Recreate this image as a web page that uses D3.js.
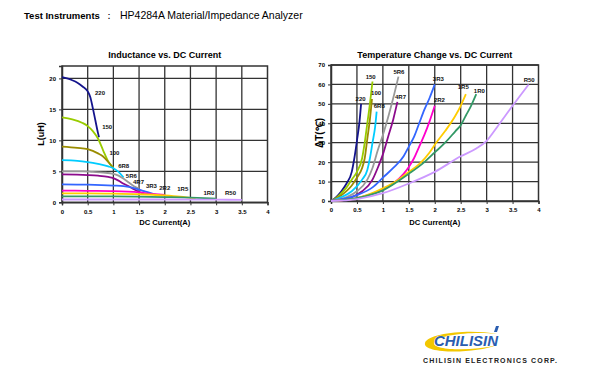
<!DOCTYPE html>
<html>
<head>
<meta charset="utf-8">
<script src="https://cdn.jsdelivr.net/npm/d3@7"></script>
<style>
  body { margin: 0; background: #fff; }
  svg { font-family: "Liberation Sans", Arial, sans-serif; }
</style>
</head>
<body>
<div id="chart"></div>
<script>
// series part numbers, same order in both charts
const seriesNames = ["220", "150", "100", "6R8", "5R6", "4R7", "3R3", "2R2", "1R5", "1R0", "R50"];
const seriesColors = ["#14148c", "#99cc00", "#9a8c00", "#00ccff", "#999999", "#8c0a8c", "#3366ff", "#ff00cc", "#ffcc00", "#339966", "#cc99ff"];

const xTicks = [0, 0.5, 1, 1.5, 2, 2.5, 3, 3.5, 4];
const inductanceTicks = [0, 5, 10, 15, 20];
const tempTicks = [0, 10, 20, 30, 40, 50, 60, 70];

// L(uH) vs DC current(A)
const inductanceCurves = [
  [[0, 20.2], [0.1, 20.0], [0.2, 19.7], [0.3, 19.3], [0.4, 18.7], [0.5, 17.9], [0.55, 17.0], [0.6, 15.2], [0.65, 13.2], [0.7, 11.2], [0.72, 10.5]],
  [[0, 13.7], [0.2, 13.4], [0.4, 12.8], [0.5, 12.3], [0.6, 11.5], [0.7, 10.3], [0.8, 8.4], [0.9, 6.6], [1.0, 5.6]],
  [[0, 9.0], [0.3, 8.8], [0.5, 8.6], [0.6, 8.3], [0.7, 7.9], [0.8, 7.4], [0.9, 6.5], [1.0, 5.5]],
  [[0, 6.8], [0.3, 6.7], [0.5, 6.5], [0.7, 6.2], [0.9, 5.8], [1.0, 5.5], [1.1, 4.9], [1.2, 4.0]],
  [[0, 5.0], [0.4, 5.0], [0.6, 4.9], [0.8, 4.8], [1.0, 4.6], [1.1, 4.3], [1.2, 3.8], [1.3, 3.2], [1.4, 2.6], [1.5, 2.2]],
  [[0, 4.5], [0.5, 4.4], [0.7, 4.3], [0.9, 4.1], [1.0, 3.9], [1.1, 3.5], [1.2, 3.0], [1.3, 2.6], [1.4, 2.1], [1.5, 1.7], [1.6, 1.3]],
  [[0, 2.9], [0.5, 2.85], [1.0, 2.7], [1.2, 2.6], [1.4, 2.3], [1.6, 1.8], [1.8, 1.3], [1.9, 1.1]],
  [[0, 1.9], [0.5, 1.85], [1.0, 1.8], [1.5, 1.6], [1.8, 1.3], [2.0, 1.2]],
  [[0, 1.45], [0.5, 1.45], [1.0, 1.4], [1.5, 1.3], [2.0, 1.1], [2.3, 0.9], [2.6, 0.6]],
  [[0, 0.95], [1.0, 0.95], [2.0, 0.85], [2.5, 0.75], [3.0, 0.6]],
  [[0, 0.45], [1.0, 0.45], [2.0, 0.45], [3.0, 0.42], [3.5, 0.4]]
];
// where each part number is written, in data units
const inductanceLabels = [[0.74, 17.6], [0.88, 12.1], [1.02, 8.0], [1.2, 5.9], [1.35, 4.3], [1.49, 3.3], [1.74, 2.7], [2.0, 2.4], [2.35, 2.1], [2.86, 1.5], [3.28, 1.5]];

// temperature rise (C) vs DC current(A)
const tempCurves = [
  [[0, 0], [0.1, 2], [0.2, 5], [0.3, 9], [0.4, 15], [0.45, 22], [0.5, 31], [0.55, 41], [0.58, 50]],
  [[0, 0], [0.1, 1.5], [0.2, 4], [0.3, 7], [0.4, 11], [0.5, 15], [0.6, 22], [0.65, 30], [0.7, 40], [0.75, 50], [0.8, 61.5]],
  [[0, 0], [0.2, 3], [0.4, 8], [0.5, 12], [0.6, 17], [0.65, 22], [0.7, 32], [0.75, 42], [0.79, 52.5]],
  [[0, 0], [0.2, 2], [0.4, 5], [0.6, 11], [0.7, 16], [0.75, 22], [0.8, 30], [0.85, 38], [0.88, 46]],
  [[0, 0], [0.3, 2], [0.5, 5], [0.7, 11], [0.8, 17], [0.9, 26], [1.0, 34], [1.1, 43], [1.2, 53], [1.3, 64]],
  [[0, 0], [0.4, 2], [0.6, 5], [0.8, 11], [0.9, 17], [1.0, 24], [1.1, 33], [1.2, 42], [1.28, 51]],
  [[0, 0], [0.5, 3], [0.8, 7], [1.0, 12], [1.2, 17], [1.4, 23], [1.5, 28], [1.6, 33], [1.7, 40], [1.8, 47], [1.9, 53], [2.0, 60]],
  [[0, 0], [0.5, 1.5], [1.0, 6], [1.2, 9], [1.4, 14], [1.5, 17.5], [1.6, 22], [1.7, 28], [1.8, 34], [1.9, 41], [2.0, 49]],
  [[0, 0], [0.5, 1.5], [1.0, 6.5], [1.3, 11], [1.5, 15], [1.7, 19], [1.9, 25], [2.0, 29], [2.2, 36], [2.4, 44], [2.5, 49], [2.6, 55]],
  [[0, 0], [0.5, 1.5], [1.0, 5.5], [1.5, 14], [1.8, 20], [2.0, 25], [2.2, 30], [2.4, 36], [2.5, 39], [2.6, 44], [2.7, 49], [2.8, 55]],
  [[0, 0], [0.5, 1], [1.0, 4], [1.5, 9], [2.0, 15], [2.5, 23], [2.8, 27], [3.0, 31], [3.2, 38], [3.5, 49], [3.81, 60]]
];
const tempLabels = [[0.57, 52.3], [0.765, 64], [0.87, 55.4], [0.93, 49], [1.31, 66.2], [1.34, 53.7], [2.07, 63.1], [2.09, 52], [2.55, 58.5], [2.86, 56.8], [3.82, 62.3]];

const W = 600, H = 380;
const svg = d3.select("#chart").append("svg").attr("width", W).attr("height", H);

// header line
const header = svg.append("g").attr("font-size", "10px").attr("fill", "#000");
header.append("text").attr("x", 24).attr("y", 19).attr("font-size", "9.5px").attr("font-weight", "bold").text("Test Instruments");
header.append("text").attr("x", 104).attr("y", 19).text("：");
header.append("text").attr("x", 120).attr("y", 19).attr("font-size", "10.5px").text("HP4284A Material/Impedance Analyzer");

function drawChart(opt) {
  const x = d3.scaleLinear().domain([0, 4]).range(opt.xRange);
  const y = d3.scaleLinear().domain(opt.yDomain).range(opt.yRange);
  const g = svg.append("g");

  // grid
  g.selectAll(".vg").data(xTicks.slice(1, -1)).enter().append("line")
    .attr("x1", d => x(d)).attr("x2", d => x(d))
    .attr("y1", y.range()[0]).attr("y2", y.range()[1])
    .attr("stroke", "#333").attr("stroke-width", 1.3);
  g.selectAll(".hg").data(opt.yTicks.slice(1)).enter().append("line")
    .attr("x1", x(0)).attr("x2", x(4))
    .attr("y1", d => y(d)).attr("y2", d => y(d))
    .attr("stroke", "#333").attr("stroke-width", 1.3);
  g.append("rect")
    .attr("x", x(0)).attr("y", y.range()[1])
    .attr("width", x(4) - x(0)).attr("height", y.range()[0] - y.range()[1])
    .attr("fill", "none").attr("stroke", "#333").attr("stroke-width", 1.5);

  // axes
  const xAxis = g.append("g").attr("transform", `translate(0,${y.range()[0]})`)
    .call(d3.axisBottom(x).tickValues(xTicks).tickSize(3).tickFormat(d => d));
  const yAxis = g.append("g").attr("transform", `translate(${x(0)},0)`)
    .call(d3.axisLeft(y).tickValues(opt.yTicks).tickSize(3).tickFormat(d => d));
  [xAxis, yAxis].forEach(a => {
    a.select(".domain").attr("stroke", "#333").attr("stroke-width", 1.5);
    a.selectAll(".tick line").attr("stroke", "#333");
    a.selectAll("text").attr("font-size", "6px").attr("font-weight", "bold")
      .attr("font-family", "Liberation Sans, Arial, sans-serif").attr("fill", "#000");
  });
  xAxis.selectAll("text").attr("dy", "0.9em");

  // curves
  const line = d3.line().x(d => x(d[0])).y(d => y(d[1])).curve(d3.curveMonotoneX);
  g.selectAll(".curve").data(opt.curves).enter().append("path")
    .attr("d", line)
    .attr("fill", "none")
    .attr("stroke", (d, i) => seriesColors[i])
    .attr("stroke-width", 1.8)
    .attr("stroke-linejoin", "round");

  // part number labels
  g.selectAll(".lbl").data(opt.labels).enter().append("text")
    .attr("x", d => x(d[0])).attr("y", d => y(d[1]))
    .attr("dy", "0.35em")
    .attr("text-anchor", "middle")
    .attr("font-size", "6px").attr("font-weight", "bold").attr("fill", "#111")
    .text((d, i) => seriesNames[i]);

  // titles
  const cx = (opt.xRange[0] + opt.xRange[1]) / 2;
  g.append("text").attr("x", cx).attr("y", 58).attr("text-anchor", "middle")
    .attr("font-size", "9px").attr("font-weight", "bold").text(opt.title);
  g.append("text").attr("x", cx).attr("y", 224.5).attr("text-anchor", "middle")
    .attr("font-size", "7.6px").attr("font-weight", "bold").text("DC Current(A)");
  g.append("text")
    .attr("transform", `translate(${opt.yLabelX},${opt.yLabelY}) rotate(-90)`)
    .attr("text-anchor", "middle").attr("dy", "0.35em")
    .attr("font-size", opt.yLabelSize).attr("font-weight", "bold").text(opt.yLabel);
}

drawChart({
  title: "Inductance vs. DC Current",
  xRange: [62, 267.5], yDomain: [0, 22], yRange: [202.3, 66],
  yTicks: inductanceTicks, curves: inductanceCurves, labels: inductanceLabels,
  yLabel: "L(uH)", yLabelX: 40.5, yLabelY: 134, yLabelSize: "9px"
});

drawChart({
  title: "Temperature Change vs. DC Current",
  xRange: [331, 538.5], yDomain: [0, 70], yRange: [201, 65],
  yTicks: tempTicks, curves: tempCurves, labels: tempLabels,
  yLabel: "ΔT(℃)", yLabelX: 319.5, yLabelY: 133, yLabelSize: "10px"
});

// company logo
const logo = svg.append("g");
logo.append("path")
  .attr("d", "M425,343 C428,333 470,329 497,334 C478,331 436,334 434,343 C433,350 470,352 497,345 C475,354 422,354 425,343 Z")
  .attr("fill", "#f2c700");
logo.append("text").attr("x", 434).attr("y", 346)
  .attr("font-size", "15px").attr("font-weight", "bold").attr("font-style", "italic")
  .attr("textLength", 64).attr("lengthAdjust", "spacingAndGlyphs")
  .attr("fill", "#2a5db0").attr("stroke", "#fff").attr("stroke-width", 0.6)
  .attr("paint-order", "stroke")
  .text("CHILISIN");
logo.append("path").attr("d", "M496,326 L499,326 L497,332 L494,332 Z").attr("fill", "#2a5db0");
logo.append("text").attr("x", 423).attr("y", 363)
  .attr("font-size", "7px").attr("font-weight", "bold").attr("fill", "#222")
  .attr("textLength", 134).attr("lengthAdjust", "spacing")
  .text("CHILISIN ELECTRONICS CORP.");
</script>
</body>
</html>
